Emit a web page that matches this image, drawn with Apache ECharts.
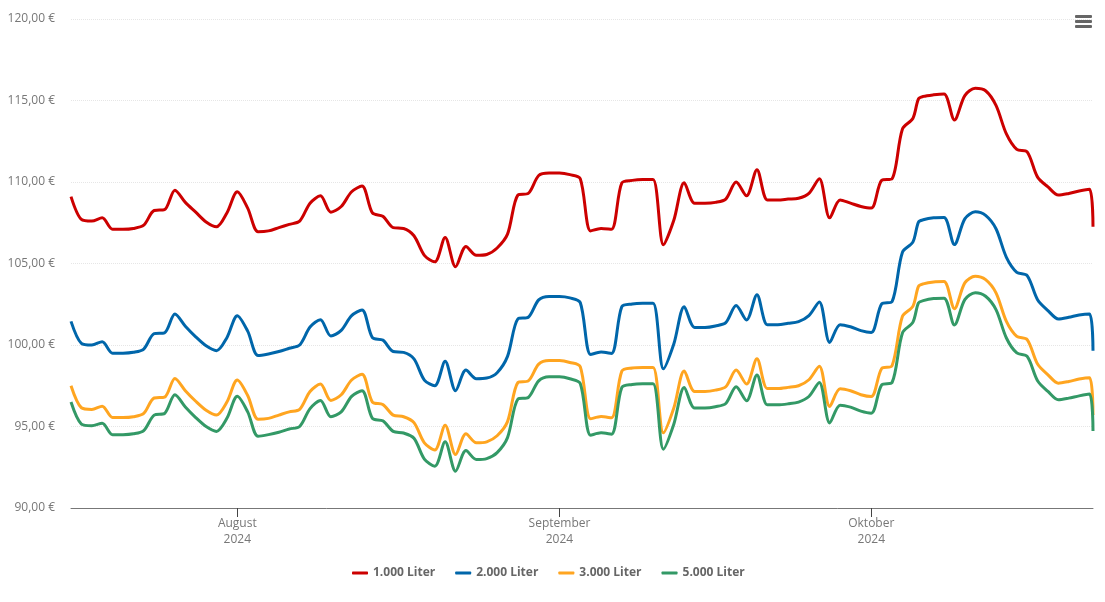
<!DOCTYPE html>
<html>
<head>
<meta charset="utf-8">
<title>Heizölpreise</title>
<script src="https://cdn.jsdelivr.net/npm/echarts@6/dist/echarts.min.js"></script>
<style>
  html, body { margin: 0; padding: 0; background: #fff; }
  #main { width: 1105px; height: 602px; }
</style>
</head>
<body>
<div id="main"></div>
<script type="text/javascript">
var dates = [
  '2024-07-16','2024-07-17','2024-07-18','2024-07-19','2024-07-20','2024-07-21','2024-07-22','2024-07-23','2024-07-24','2024-07-25','2024-07-26','2024-07-27','2024-07-28','2024-07-29','2024-07-30','2024-07-31',
  '2024-08-01','2024-08-02','2024-08-03','2024-08-04','2024-08-05','2024-08-06','2024-08-07','2024-08-08','2024-08-09','2024-08-10','2024-08-11','2024-08-12','2024-08-13','2024-08-14','2024-08-15','2024-08-16',
  '2024-08-17','2024-08-18','2024-08-19','2024-08-20','2024-08-21','2024-08-22','2024-08-23','2024-08-24','2024-08-25','2024-08-26','2024-08-27','2024-08-28','2024-08-29','2024-08-30','2024-08-31',
  '2024-09-01','2024-09-02','2024-09-03','2024-09-04','2024-09-05','2024-09-06','2024-09-07','2024-09-08','2024-09-09','2024-09-10','2024-09-11','2024-09-12','2024-09-13','2024-09-14','2024-09-15',
  '2024-09-16','2024-09-17','2024-09-18','2024-09-19','2024-09-20','2024-09-21','2024-09-22','2024-09-23','2024-09-24','2024-09-25','2024-09-26','2024-09-27','2024-09-28','2024-09-29','2024-09-30',
  '2024-10-01','2024-10-02','2024-10-03','2024-10-04','2024-10-05','2024-10-05 13:00','2024-10-06','2024-10-07','2024-10-08','2024-10-09','2024-10-10','2024-10-11','2024-10-12','2024-10-13','2024-10-14',
  '2024-10-15','2024-10-16','2024-10-17','2024-10-18','2024-10-19','2024-10-20','2024-10-21','2024-10-22','2024-10-22 08:00'
];

var liter1000 = [
  109.1,107.7,107.6,107.8,107.1,107.1,107.15,107.35,108.25,108.3,109.5,108.75,108.15,107.55,107.25,108.1,
  109.4,108.4,106.95,107.0,107.2,107.4,107.6,108.7,109.15,108.15,108.5,109.4,109.75,108.1,107.9,107.2,
  107.15,106.7,105.5,105.1,106.6,104.8,106.05,105.5,105.55,105.95,106.8,109.2,109.3,110.4,110.55,
  110.55,110.45,110.2,107.0,107.15,107.1,109.95,110.1,110.15,110.15,106.15,107.65,109.95,108.7,
  108.7,108.75,108.95,110.0,109.15,110.75,108.9,108.9,108.95,109.0,109.3,110.2,107.8,108.9,108.7,108.5,
  108.4,110.1,110.2,113.25,113.9,115.1,115.25,115.35,115.4,113.8,115.3,115.75,115.6,114.7,112.95,
  112.0,111.85,110.3,109.7,109.2,109.3,109.45,109.55,107.25
];
var liter2000 = [
  101.45,100.1,100.0,100.2,99.5,99.5,99.55,99.75,100.7,100.75,101.9,101.15,100.5,99.95,99.65,100.45,
  101.8,100.85,99.35,99.45,99.6,99.8,100.0,101.1,101.55,100.55,100.9,101.8,102.15,100.45,100.3,99.6,
  99.55,99.15,97.85,97.5,99.0,97.2,98.46,97.93,97.97,98.3,99.3,101.6,101.7,102.77,102.98,
  102.98,102.89,102.6,99.42,99.57,99.48,102.35,102.52,102.56,102.56,98.54,100.06,102.35,101.08,
  101.08,101.17,101.37,102.42,101.53,103.09,101.25,101.25,101.33,101.43,101.8,102.64,100.16,101.25,101.12,100.88,
  100.77,102.52,102.66,105.69,106.31,107.54,107.68,107.8,107.82,106.16,107.74,108.17,107.95,107.13,105.38,
  104.46,104.26,102.78,102.11,101.6,101.7,101.84,101.9,99.65
];
var liter3000 = [
  97.5,96.15,96.05,96.25,95.55,95.55,95.6,95.8,96.75,96.8,97.95,97.2,96.55,96.0,95.7,96.5,
  97.85,96.9,95.45,95.5,95.7,95.9,96.05,97.15,97.6,96.6,96.95,97.85,98.2,96.5,96.35,95.7,
  95.6,95.24,94.0,93.56,95.08,93.28,94.55,94.0,94.06,94.43,95.3,97.7,97.8,98.83,99.05,
  99.05,98.93,98.67,95.47,95.61,95.53,98.4,98.59,98.62,98.62,94.61,96.13,98.4,97.15,
  97.15,97.23,97.44,98.46,97.6,99.16,97.33,97.33,97.4,97.5,97.87,98.7,96.23,97.31,97.19,96.95,
  96.84,98.56,98.73,101.76,102.37,103.6,103.75,103.87,103.89,102.23,103.81,104.22,104.01,103.2,101.45,
  100.53,100.33,98.83,98.17,97.66,97.76,97.91,97.99,95.7
];
var liter5000 = [
  96.5,95.15,95.05,95.2,94.5,94.5,94.55,94.75,95.7,95.8,96.95,96.2,95.55,95.0,94.7,95.5,
  96.85,95.9,94.4,94.5,94.65,94.85,95.0,96.1,96.6,95.6,95.9,96.85,97.2,95.5,95.35,94.7,
  94.6,94.28,93.0,92.56,94.06,92.26,93.52,92.97,93.03,93.4,94.32,96.68,96.78,97.8,98.05,
  98.05,97.93,97.64,94.47,94.61,94.53,97.4,97.58,97.62,97.62,93.61,95.14,97.4,96.13,
  96.13,96.21,96.41,97.44,96.58,98.16,96.33,96.33,96.39,96.5,96.84,97.7,95.22,96.31,96.19,95.94,
  95.82,97.56,97.7,100.74,101.39,102.58,102.72,102.85,102.87,101.23,102.78,103.21,102.99,102.17,100.43,
  99.51,99.3,97.81,97.15,96.64,96.74,96.88,96.99,94.73
];

var seriesNames = ['1.000 Liter', '2.000 Liter', '3.000 Liter', '5.000 Liter'];
var seriesColors = ['#cc0000', '#0066aa', '#ffa520', '#339966'];
var seriesValues = [liter1000, liter2000, liter3000, liter5000];
var monthTicks = ['2024-08-01', '2024-09-01', '2024-10-01'];
var monthNames = ['August', 'September', 'Oktober'];
var FONT = '"Open Sans", "Noto Sans", sans-serif';

function toTime(s) {
    return echarts.time.parse(s).getTime();
}
var tickTimes = monthTicks.map(toTime);

var myChart = echarts.init(document.getElementById('main'), null, { renderer: 'canvas' });
myChart.setOption({
    animation: false,
    backgroundColor: '#fff',
    textStyle: { fontFamily: FONT },
    grid: { left: 71, right: 12, top: 19, bottom: 94 },
    legend: {
        data: seriesNames,
        bottom: 18,
        left: 347,
        icon: 'roundRect',
        itemWidth: 16,
        itemHeight: 3,
        itemGap: 20,
        textStyle: { fontFamily: FONT, fontSize: 12, fontWeight: 'bold', color: '#666' }
    },
    xAxis: {
        // Wertachse mit Zeitstempeln, damit die Monatsticks frei gesetzt werden koennen
        type: 'value',
        min: toTime(dates[0]),
        max: toTime(dates[dates.length - 1]),
        axisLine: { lineStyle: { color: '#777', width: 1 } },
        axisTick: { show: true, length: 9, customValues: tickTimes, lineStyle: { color: '#444' } },
        axisLabel: {
            customValues: tickTimes,
            color: '#777',
            fontFamily: FONT,
            fontSize: 12,
            lineHeight: 16,
            margin: 8,
            formatter: function (value) {
                var i = tickTimes.indexOf(value);
                return monthNames[i] + '\n2024';
            }
        },
        splitLine: { show: false }
    },
    yAxis: {
        type: 'value',
        min: 90,
        max: 120,
        interval: 5,
        axisLine: { show: false },
        axisTick: { show: false },
        axisLabel: {
            color: '#777',
            fontFamily: FONT,
            fontSize: 12,
            margin: 16,
            padding: [6, 0, 0, 0],
            formatter: function (value) {
                return value.toFixed(2).replace('.', ',') + ' €';
            }
        },
        splitLine: { lineStyle: { color: '#e6e6e6', type: 'dotted', width: 1 } }
    },
    series: seriesNames.map(function (name, i) {
        return {
            name: name,
            type: 'line',
            symbol: 'none',
            smooth: 0.3,
            lineStyle: { width: 3, color: seriesColors[i] },
            itemStyle: { color: seriesColors[i] },
            data: dates.map(function (d, j) {
                return [toTime(d), seriesValues[i][j]];
            })
        };
    }),
    // Menue-Symbol oben rechts
    graphic: [
        { type: 'rect', shape: { x: 1075, y: 15, width: 17, height: 3, r: 1 }, style: { fill: '#666' } },
        { type: 'rect', shape: { x: 1075, y: 20, width: 17, height: 3, r: 1 }, style: { fill: '#666' } },
        { type: 'rect', shape: { x: 1075, y: 25, width: 17, height: 3, r: 1 }, style: { fill: '#666' } }
    ]
});
</script>
</body>
</html>
